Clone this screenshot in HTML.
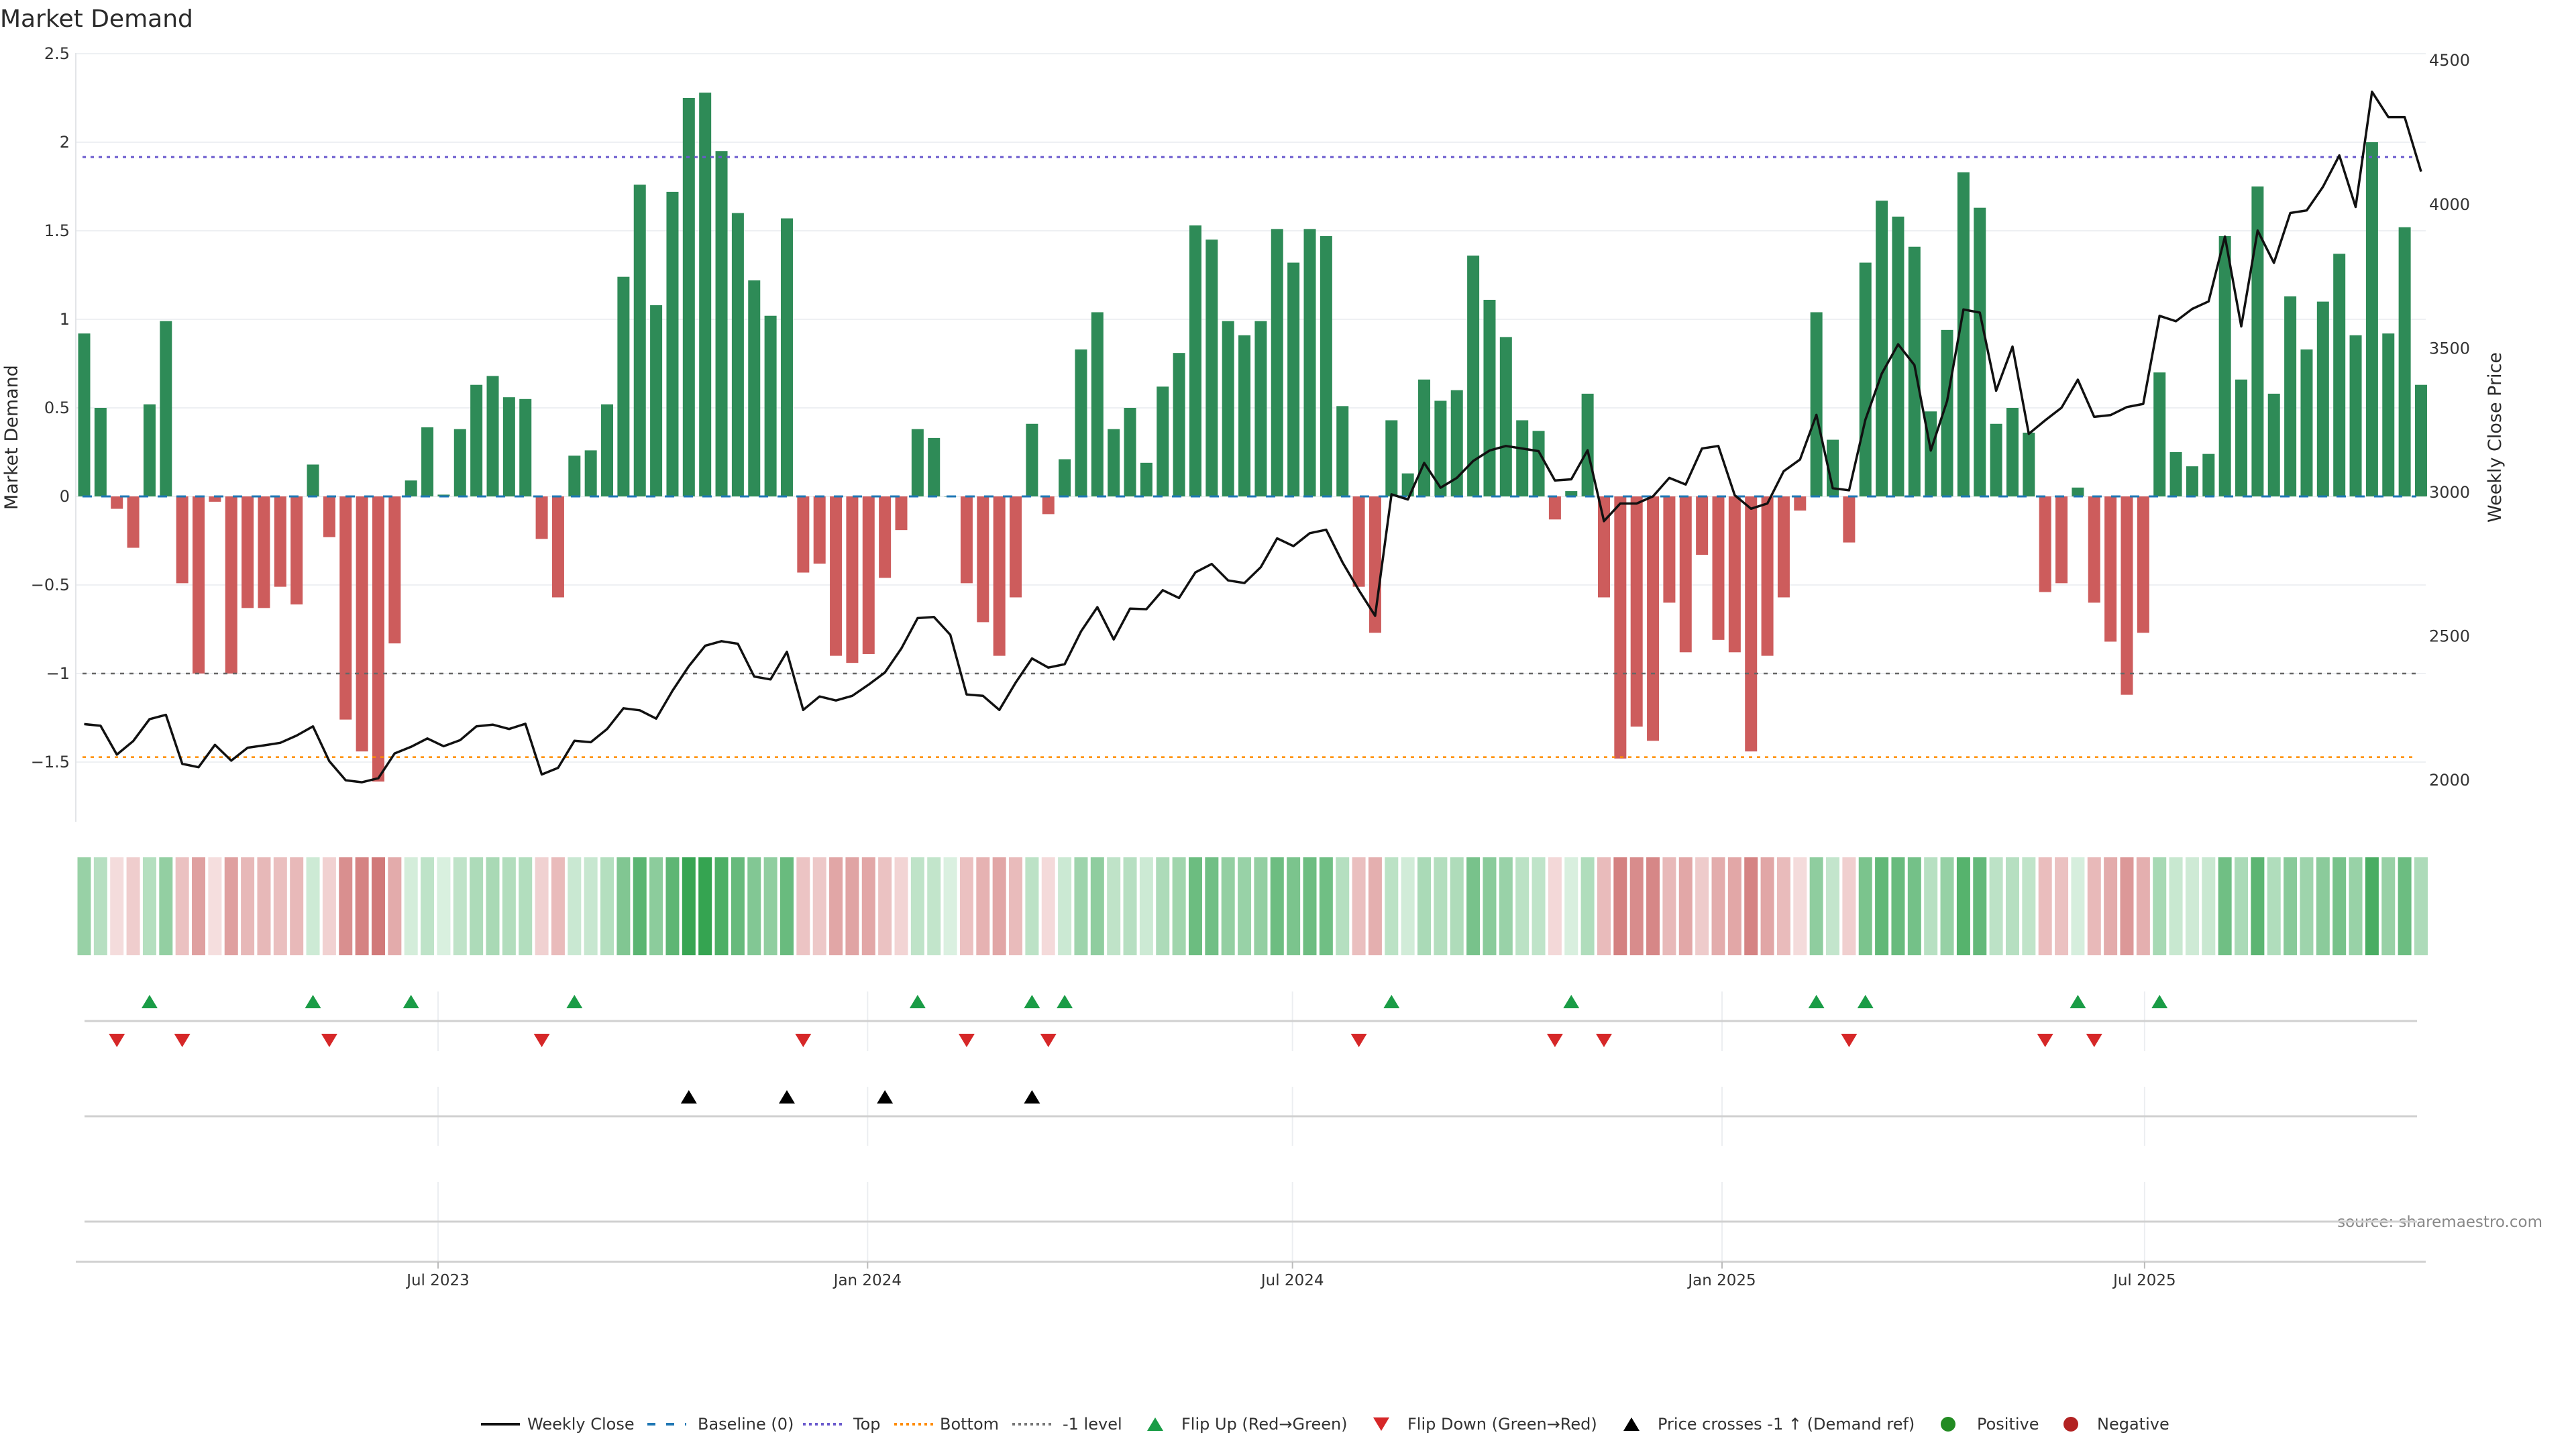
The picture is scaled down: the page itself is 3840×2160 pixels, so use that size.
<!DOCTYPE html>
<html><head><meta charset="utf-8"><title>Market Demand</title>
<style>html,body{margin:0;padding:0;background:#fff}svg{display:block;font-family:"DejaVu Sans","Liberation Sans",sans-serif}</style>
</head><body>
<svg id="chart" xmlns="http://www.w3.org/2000/svg" width="3840" height="2160" viewBox="0 0 3840 2160">
<text x="0" y="40" font-size="36" fill="#2a2a2a">Market Demand</text>
<text transform="translate(26,652) rotate(-90)" text-anchor="middle" font-size="27" fill="#2a2a2a">Market Demand</text>
<text transform="translate(3728,652) rotate(-90)" text-anchor="middle" font-size="27" fill="#2a2a2a">Weekly Close Price</text>
<text x="3790" y="1829" text-anchor="end" font-size="23" fill="#888">source: sharemaestro.com</text>
<g id="grid"></g><g id="bars"></g><g id="refs"></g><g id="line"></g><g id="heat"></g><g id="flips"></g><g id="xaxis"></g><g id="legend"></g>
</svg>
<script>
const demand = [0.92,0.50,-0.07,-0.29,0.52,0.99,-0.49,-1.00,-0.03,-1.00,
-0.63,-0.63,-0.51,-0.61,0.18,-0.23,-1.26,-1.44,-1.61,-0.83,
0.09,0.39,0.01,0.38,0.63,0.68,0.56,0.55,-0.24,-0.57,
0.23,0.26,0.52,1.24,1.76,1.08,1.72,2.25,2.28,1.95,
1.60,1.22,1.02,1.57,-0.43,-0.38,-0.90,-0.94,-0.89,-0.46,
-0.19,0.38,0.33,0.00,-0.49,-0.71,-0.90,-0.57,0.41,-0.10,
0.21,0.83,1.04,0.38,0.50,0.19,0.62,0.81,1.53,1.45,
0.99,0.91,0.99,1.51,1.32,1.51,1.47,0.51,-0.51,-0.77,
0.43,0.13,0.66,0.54,0.60,1.36,1.11,0.90,0.43,0.37,
-0.13,0.03,0.58,-0.57,-1.48,-1.30,-1.38,-0.60,-0.88,-0.33,
-0.81,-0.88,-1.44,-0.90,-0.57,-0.08,1.04,0.32,-0.26,1.32,
1.67,1.58,1.41,0.48,0.94,1.83,1.63,0.41,0.50,0.36,
-0.54,-0.49,0.05,-0.60,-0.82,-1.12,-0.77,0.70,0.25,0.17,
0.24,1.47,0.66,1.75,0.58,1.13,0.83,1.10,1.37,0.91,
2.00,0.92,1.52,0.63];
const price = [2193,2187,2087,2134,2210,2225,2055,2043,2121,2066,
2111,2119,2128,2153,2185,2064,1998,1991,2005,2091,
2114,2143,2116,2137,2185,2191,2176,2194,2018,2041,
2135,2130,2176,2248,2241,2212,2309,2394,2465,2481,
2472,2358,2348,2444,2242,2289,2275,2291,2330,2372,
2455,2561,2565,2503,2296,2291,2242,2337,2421,2389,
2401,2515,2599,2487,2594,2592,2658,2631,2720,2749,
2692,2683,2738,2838,2811,2856,2868,2755,2658,2569,
2991,2973,3100,3014,3048,3107,3143,3159,3150,3141,
3039,3043,3144,2898,2959,2959,2984,3048,3025,3150,
3159,2988,2941,2959,3071,3112,3267,3012,3005,3250,
3410,3512,3440,3143,3315,3633,3622,3351,3504,3201,
3248,3292,3389,3260,3266,3294,3305,3611,3592,3635,
3661,3886,3574,3907,3795,3968,3977,4059,4168,3989,
4389,4301,4301,4112];
const leftTicks = [2.5,2,1.5,1,0.5,0,-0.5,-1,-1.5];
const leftTickLabels = ["2.5","2","1.5","1","0.5","0","−0.5","−1","−1.5"];
const rightTicks = [4500,4000,3500,3000,2500,2000];
const topLevel = 1.916;
const bottomLevel = -1.472;
const minusLevel = -1;
const xTickDates = ["2023-07-01","2024-01-01","2024-07-01","2025-01-01","2025-07-01"];
const xTickLabels = ["Jul 2023","Jan 2024","Jul 2024","Jan 2025","Jul 2025"];

const NS="http://www.w3.org/2000/svg";
function mk(tag,attrs,parent){const e=document.createElementNS(NS,tag);for(const k in attrs)e.setAttribute(k,attrs[k]);parent.appendChild(e);return e;}
const PL=113, PR=3616, PT=79, PB=1225;
const xBar = i => 125.5 + 24.36*i;
const yL = v => 740 - v*264;
const yR = p => 733 - (p-3000)*0.4292;
const pR = y => 3000 + (733-y)/0.4292;
const t0 = Date.UTC(2023,6,1) - ((653-125.5)/24.36*7)*86400000;
const xDate = s => { const d=new Date(s+"T00:00:00Z").getTime(); return 125.5 + (d-t0)/86400000/7*24.36; };

const grid=document.getElementById('grid');
leftTicks.forEach((v,k)=>{
  const l=mk('line',{x1:PL,x2:PR,y1:yL(v),y2:yL(v),stroke:'#eef0f3','stroke-width':2},grid);
  
  
  const t=mk('text',{x:104,y:yL(v)+8,'text-anchor':'end','font-size':24,fill:'#333'},grid);
  t.textContent=leftTickLabels[k];
  
  
});
rightTicks.forEach(p=>{
  const t=mk('text',{x:3621,y:yR(p)+9,'font-size':24,fill:'#333'},grid);
  t.textContent=String(p);
  
  
});
const ax=mk('line',{x1:PL,x2:PL,y1:PT,y2:PB,stroke:'#e3e5e8','stroke-width':2},grid);



const bars=document.getElementById('bars');
demand.forEach((v,i)=>{
  const y0=yL(0), y1=yL(v);
  const r=mk('rect',{x:xBar(i)-9,y:Math.min(y0,y1),width:18,height:Math.max(0.5,Math.abs(y1-y0)),fill:v>=0?'#2e8b57':'#cd5c5c'},bars);
  
  
});

const refs=document.getElementById('refs');
function ref(v,color,dash,name,w){
  const l=mk('line',{x1:PL+10,x2:3602,y1:yL(v),y2:yL(v),stroke:color,'stroke-width':w,'stroke-dasharray':dash},refs);
  
  
}
ref(0,'#1f77b4','14 14','baseline-line',3);
ref(topLevel,'#6a5acd','5 7','top-line',3);
ref(bottomLevel,'#ff8c00','5 7','bottom-line',2.5);
ref(minusLevel,'#666','6 8','minus-one-line',2.5);

const lineG=document.getElementById('line');
const pts=price.map((p,i)=>xBar(i).toFixed(1)+','+yR(p).toFixed(1)).join(' ');
const pl=mk('polyline',{points:pts,fill:'none',stroke:'#111','stroke-width':3.5,'stroke-linejoin':'round'},lineG);



const heat=document.getElementById('heat');
function mix(a,b,t){return 'rgb('+a.map((c,k)=>Math.round(c+(b[k]-c)*t)).join(',')+')';}
demand.forEach((v,i)=>{
  let col;
  if(v>=0) col=mix([218,240,224],[52,163,80],Math.min(1,v/2.3));
  else col=mix([246,224,224],[208,118,118],Math.min(1,-v/1.65));
  const r=mk('rect',{x:xBar(i)-10,y:1278,width:20,height:146,fill:col},heat);
  
  
});

const flips=document.getElementById('flips');
const xg=document.getElementById('xaxis');
[[1478,1567],[1620,1708],[1762,1880]].forEach(rg=>{
  xTickDates.forEach(d=>{
    const l=mk('line',{x1:xDate(d),x2:xDate(d),y1:rg[0],y2:rg[1],stroke:'#eceef1','stroke-width':2},xg);
    
    
  });
});
[1522,1664,1821].forEach(y=>{
  const l=mk('line',{x1:126,x2:3603,y1:y,y2:y,stroke:'#d0d0d0','stroke-width':3},xg);
  
  
});
const xl=mk('line',{x1:113,x2:3616,y1:1881,y2:1881,stroke:'#d0d0d0','stroke-width':3},xg);


xTickDates.forEach((d,k)=>{
  const x=xDate(d);
  const tk=mk('line',{x1:x,x2:x,y1:1881,y2:1891,stroke:'#bbb','stroke-width':2},xg);
  
  
  const t=mk('text',{x:x,y:1916,'text-anchor':'middle','font-size':23,fill:'#333'},xg);
  t.textContent=xTickLabels[k];
  
  
});
function tri(x,y,up,color,parent){
  const h=20,w=12;
  const d=up?`M${x-w},${y+h/2} L${x+w},${y+h/2} L${x},${y-h/2} Z`:`M${x-w},${y-h/2} L${x+w},${y-h/2} L${x},${y+h/2} Z`;
  return mk('path',{d:d,fill:color},parent);
}
const crossPrice = pR(yL(minusLevel));
for(let i=1;i<demand.length;i++){
  if(demand[i-1]<0 && demand[i]>=0){
    const t=tri(xBar(i),1493,true,'#1a9c46',flips);
    
    
  }
  if(demand[i-1]>=0 && demand[i]<0){
    const t=tri(xBar(i),1551,false,'#d62728',flips);
    
    
  }
  if(price[i-1]<crossPrice && price[i]>=crossPrice){
    const t=tri(xBar(i),1635,true,'#000',flips);
    
    
  }
}

const lg=document.getElementById('legend');
const LY=2123;
function ltext(x,s){const t=mk('text',{x:x,y:LY+8,'font-size':24,fill:'#333'},lg);t.textContent=s;}
function lline(x,color,dash,w){const l=mk('line',{x1:x,x2:x+58,y1:LY,y2:LY,stroke:color,'stroke-width':w,'stroke-dasharray':dash},lg);}
lline(717,'#111','none',4); ltext(786,'Weekly Close');
lline(965,'#1f77b4','12 16',4); ltext(1040,'Baseline (0)');
lline(1197,'#6a5acd','4 5',4); ltext(1272,'Top');
lline(1333,'#ff8c00','4 5',4); ltext(1401,'Bottom');
lline(1509,'#777','4 5',4); ltext(1584,'-1 level');
let s=tri(1722,LY,true,'#1a9c46',lg);  
ltext(1761,'Flip Up (Red→Green)');
s=tri(2059,LY,false,'#d62728',lg);  
ltext(2098,'Flip Down (Green→Red)');
s=tri(2432,LY,true,'#000',lg);  
ltext(2471,'Price crosses -1 ↑ (Demand ref)');
s=mk('circle',{cx:2904,cy:LY,r:11,fill:'#228b22'},lg);  
ltext(2947,'Positive');
s=mk('circle',{cx:3087,cy:LY,r:11,fill:'#b22222'},lg);  
ltext(3126,'Negative');
</script>
</body></html>
